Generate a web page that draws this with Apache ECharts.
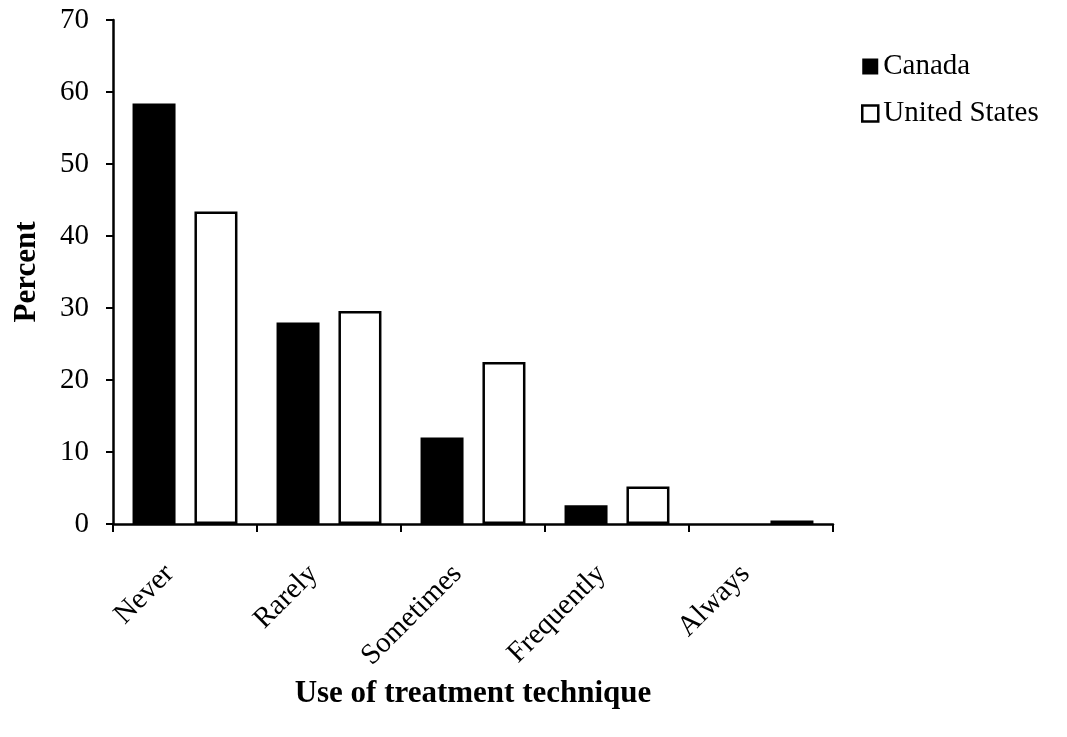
<!DOCTYPE html>
<html>
<head>
<meta charset="utf-8">
<script src="https://cdn.jsdelivr.net/npm/echarts@6/dist/echarts.min.js"></script>
<style>
html,body{margin:0;padding:0;background:#fff;}
#chart{width:1067px;height:737px;}
</style>
</head>
<body>
<div id="chart"></div>
<script>
const categories = ['Never', 'Rarely', 'Sometimes', 'Frequently', 'Always'];
const canada = [58.4, 28.0, 12.0, 2.6, 0];
const unitedStates = [43.4, 29.6, 22.5, 5.2, 0.5];
const yTicks = [0, 10, 20, 30, 40, 50, 60, 70];

const FONT = 'Liberation Serif';
const chart = echarts.init(document.getElementById('chart'), null, {renderer: 'canvas'});
chart.setOption({
  animation: false,
  backgroundColor: '#fff',
  textStyle: {fontFamily: FONT, color: '#000'},
  grid: {left: 113, right: 234, top: 20, bottom: 213, containLabel: false, outerBoundsMode: 'none'},
  legend: {
    orient: 'vertical',
    left: 856, top: 47,
    itemWidth: 16, itemHeight: 16, itemGap: 18,
    icon: 'rect',
    textStyle: {fontFamily: FONT, fontSize: 29, color: '#000', padding: [0,0,0,0]},
    data: [
      {name: 'Canada', itemStyle: {color: '#000', borderColor: '#000', borderWidth: 0}},
      {name: 'United States', itemStyle: {color: '#fff', borderColor: '#000', borderWidth: 2.5}}
    ]
  },
  xAxis: {
    type: 'category',
    data: categories,
    name: 'Use of treatment technique',
    nameLocation: 'middle',
    nameGap: 154,
    nameTextStyle: {fontFamily: FONT, fontSize: 31, fontWeight: 'bold', color: '#000'},
    axisLine: {lineStyle: {color: '#000', width: 2.5}},
    axisTick: {show: true, alignWithLabel: false, length: 8, lineStyle: {color: '#000', width: 2}},
    axisLabel: {rotate: 45, margin: 30, padding: [0, 22, 0, 0], fontFamily: FONT, fontSize: 29, color: '#000'},
    splitLine: {show: false}
  },
  yAxis: {
    type: 'value',
    min: 0, max: 70, interval: 10,
    name: 'Percent',
    nameLocation: 'middle',
    nameGap: 71,
    nameRotate: 90,
    nameTextStyle: {fontFamily: FONT, fontSize: 31, fontWeight: 'bold', color: '#000'},
    axisLine: {show: true, lineStyle: {color: '#000', width: 2.5}},
    axisTick: {show: true, inside: false, length: 7, lineStyle: {color: '#000', width: 2}},
    axisLabel: {margin: 24, fontFamily: FONT, fontSize: 29, color: '#000',
      formatter: v => yTicks.includes(v) ? String(v) : ''},
    splitLine: {show: false}
  },
  series: [
    {
      name: 'Canada', type: 'bar', data: canada,
      barWidth: 43, barGap: '44%',
      itemStyle: {color: '#000', borderColor: '#000', borderWidth: 0}
    },
    {
      name: 'United States', type: 'bar', data: unitedStates,
      barWidth: 43,
      itemStyle: {color: '#fff', borderColor: '#000', borderWidth: 2.5}
    }
  ]
});
</script>
</body>
</html>
